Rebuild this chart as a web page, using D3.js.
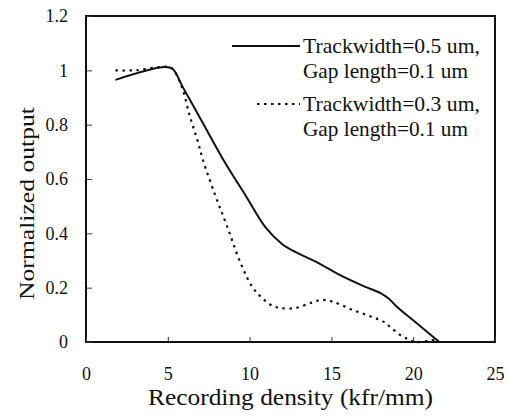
<!DOCTYPE html>
<html><head><meta charset="utf-8">
<script src="https://cdn.jsdelivr.net/npm/d3@7"></script>
</head><body style="margin:0">
<script>
const xTicks = [0, 5, 10, 15, 20, 25];
const yTicks = [0, 0.2, 0.4, 0.6, 0.8, 1, 1.2];
const yTickLabels = ["0", "0.2", "0.4", "0.6", "0.8", "1", "1.2"];
const seriesNames = ["Trackwidth=0.5 um,", "Trackwidth=0.3 um,"];
const seriesSub = ["Gap length=0.1 um", "Gap length=0.1 um"];
const solidX = [1.8, 4.8, 5.3, 5.9, 7.15, 8.4, 9.8, 11, 12, 13, 14.1, 15.5, 17, 18, 18.5, 19, 20.2, 21.6];
const solidY = [0.965, 1.012, 1.005, 0.94, 0.805, 0.67, 0.535, 0.42, 0.36, 0.325, 0.294, 0.247, 0.205, 0.18, 0.16, 0.13, 0.07, 0];
const dotX = [1.8, 3, 4.5, 5.2, 5.85, 6.35, 6.8, 7.15, 7.9, 8.6, 9.5, 10.2, 10.8, 11.4, 11.9, 12.8, 13.8, 14.4, 15.1, 16.3, 17.5, 18.2, 18.6, 19.2, 19.7, 20.1, 21, 21.5];
const dotY = [1.0, 1.0, 1.012, 1.01, 0.94, 0.83, 0.745, 0.67, 0.54, 0.43, 0.283, 0.2, 0.16, 0.133, 0.125, 0.125, 0.145, 0.155, 0.148, 0.118, 0.092, 0.074, 0.055, 0.026, 0.01, 0, 0.005, 0.01];

const FONT = "Liberation Serif";
const W = 508, H = 418;
const L = 86, R = 495, T = 16, B = 342;
const svg = d3.select("body").append("svg").attr("width", W).attr("height", H);
const x = d3.scaleLinear().domain([0, 25]).range([L, R]);
const y = d3.scaleLinear().domain([0, 1.2]).range([B, T]);

svg.append("rect").attr("x", L).attr("y", T).attr("width", R - L).attr("height", B - T)
  .attr("fill", "none").attr("stroke", "#111").attr("stroke-width", 2);

const xAxis = svg.append("g").attr("transform", `translate(0,${B})`)
  .call(d3.axisBottom(x).tickValues(xTicks).tickSize(-5).tickPadding(25).tickFormat(d3.format("d")));
const yAxis = svg.append("g").attr("transform", `translate(${L},0)`)
  .call(d3.axisLeft(y).tickValues(yTicks).tickSize(-6).tickPadding(18).tickFormat((d, i) => yTickLabels[i]));
[xAxis, yAxis].forEach(g => {
  g.attr("font-family", FONT).attr("font-size", 18);
  g.select(".domain").remove();
  g.selectAll(".tick line").attr("stroke", "#333").attr("stroke-width", 1);
  g.selectAll(".tick text").attr("font-family", FONT).attr("font-size", 18).attr("fill", "#111");
});

const lineS = d3.line().x(d => x(d[0])).y(d => y(d[1])).curve(d3.curveCatmullRom.alpha(0.5));
svg.append("path").datum(solidX.map((v, i) => [v, solidY[i]]))
  .attr("d", lineS).attr("fill", "none").attr("stroke", "#111").attr("stroke-width", 2);
svg.append("path").datum(dotX.map((v, i) => [v, dotY[i]]))
  .attr("d", lineS).attr("fill", "none").attr("stroke", "#111").attr("stroke-width", 2.2)
  .attr("stroke-dasharray", "2.5,4.5");

function label(sel, size, len) {
  sel.attr("font-family", FONT).attr("font-size", size).attr("fill", "#111");
  if (len) sel.attr("textLength", len).attr("lengthAdjust", "spacingAndGlyphs");
  return sel;
}
const leg = [{y: 46, dash: null, x0: 232}, {y: 104, dash: "2.5,4.5", x0: 257}];
leg.forEach((d, i) => {
  svg.append("line").attr("x1", d.x0).attr("x2", 300).attr("y1", d.y).attr("y2", d.y)
    .attr("stroke", "#111").attr("stroke-width", 2).attr("stroke-dasharray", d.dash);
  label(svg.append("text").attr("x", 303).attr("y", d.y + 7), 21, 177).text(seriesNames[i]);
  label(svg.append("text").attr("x", 303).attr("y", d.y + 32), 21, 165).text(seriesSub[i]);
});

label(svg.append("text").attr("x", 148).attr("y", 405), 23, 285)
  .text("Recording density (kfr/mm)");
label(svg.append("text").attr("transform", `translate(34,300) rotate(-90)`), 22, 193)
  .text("Normalized output");
</script>
</body></html>
